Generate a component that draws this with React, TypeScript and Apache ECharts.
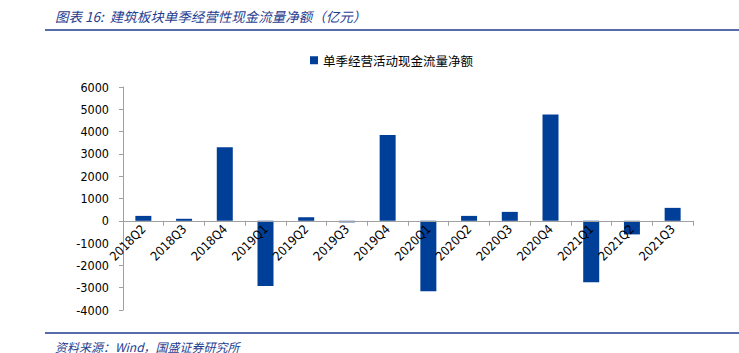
import React, { useEffect, useRef } from "react";
import * as echarts from "echarts";

const categories = ["2018Q2","2018Q3","2018Q4","2019Q1","2019Q2","2019Q3","2019Q4","2020Q1","2020Q2","2020Q3","2020Q4","2021Q1","2021Q2","2021Q3"];
const netCashFlow = [220, 90, 3300, -2920, 160, -70, 3850, -3160, 220, 400, 4770, -2760, -610, 580];
const seriesName = "单季经营活动现金流量净额";
const titleText = "图表 16:  建筑板块单季经营性现金流量净额（亿元）";
const sourceText = "资料来源：Wind，国盛证券研究所";
const yMin = -4000;
const yMax = 6000;

export default function App() {
  const ref = useRef<HTMLDivElement>(null);
  useEffect(() => {
    document.body.style.margin = "0";
    const chart = echarts.init(ref.current!, null, { renderer: "svg" });
    const navy = "#1F3D8F";
    const gridTop = 87;
    const gridBottom = 43;
    const plotH = 353 - gridTop - gridBottom;
    const zeroOffset = -plotH * (0 - yMin) / (yMax - yMin);
    chart.setOption({
      animation: false,
      backgroundColor: "#ffffff",
      textStyle: { fontFamily: "Noto Sans CJK SC" },
      grid: { left: 123, right: 46, top: gridTop, bottom: gridBottom, containLabel: false },
      legend: {
        data: [seriesName],
        top: 49,
        left: 305,
        itemWidth: 8,
        itemHeight: 8,
        itemGap: 5,
        icon: "rect",
        textStyle: { fontSize: 12.5, color: "#000", fontFamily: "Noto Sans CJK SC" },
      },
      xAxis: {
        type: "category",
        data: categories,
        position: "bottom",
        offset: zeroOffset,
        z: 10,
        axisLine: { onZero: false, lineStyle: { color: "#A0A0A0" } },
        axisTick: { show: true, alignWithLabel: false, length: 5, lineStyle: { color: "#A0A0A0" } },
        axisLabel: { rotate: 45, fontSize: 12.5, color: "#000", fontFamily: "DejaVu Sans Condensed, Liberation Sans", margin: 6, interval: 0 },
      },
      yAxis: {
        type: "value",
        min: yMin,
        max: yMax,
        interval: 1000,
        splitLine: { show: false },
        axisLine: { show: true, lineStyle: { color: "#A0A0A0" } },
        axisTick: { show: true, length: 4, lineStyle: { color: "#A0A0A0" } },
        axisLabel: { fontSize: 12.5, color: "#000", fontFamily: "DejaVu Sans Condensed, Liberation Sans", margin: 14, formatter: (v: number) => String(v) },
      },
      series: [
        {
          name: seriesName,
          type: "bar",
          data: netCashFlow,
          barWidth: 16,
          z: 2,
          itemStyle: { color: "#003F98" },
        },
      ],
      graphic: [
        { type: "text", x: 55, y: 16, style: { text: titleText, fill: navy, fontSize: 13.5, fontStyle: "italic", fontFamily: "Noto Sans CJK SC", verticalAlign: "middle" } },
        { type: "line", shape: { x1: 45, y1: 30, x2: 739, y2: 30 }, style: { stroke: navy, lineWidth: 1.5 } },
        { type: "line", shape: { x1: 45, y1: 333, x2: 739, y2: 333 }, style: { stroke: navy, lineWidth: 1.5 } },
        { type: "text", x: 55, y: 346, style: { text: sourceText, fill: navy, fontSize: 12, fontStyle: "italic", fontFamily: "Noto Sans CJK SC", verticalAlign: "middle" } },
      ],
    });
    return () => chart.dispose();
  }, []);
  return <div ref={ref} style={{ width: 739, height: 353 }} />;
}
